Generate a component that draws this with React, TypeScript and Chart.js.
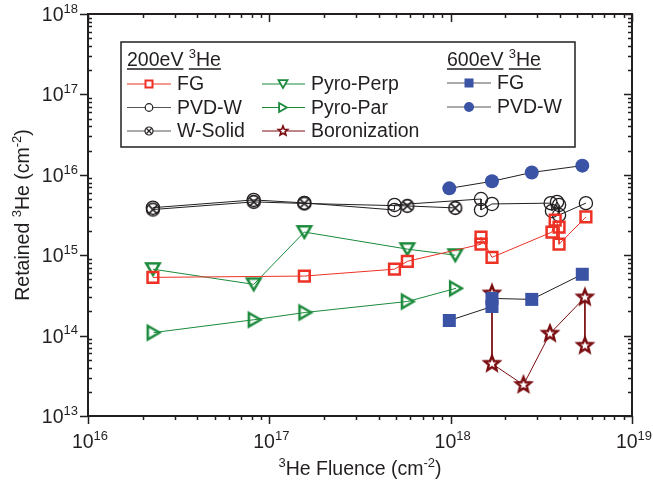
import { useEffect, useRef } from "react";
import { Chart, registerables } from "chart.js";

Chart.register(...registerables);

const FONT = '"Liberation Sans", Arial, Helvetica, sans-serif';
const INK = "#231f20";
const RED = "#ed3124";
const GREEN = "#1b8a3c";
const DARKRED = "#7a0c10";
const BLUE = "#3a53a4";

// 200 eV 3He exposures
const fg200Fluence = [2.28e16, 1.56e17, 4.9e17, 5.77e17, 1.47e18, 1.47e18, 1.69e18, 3.62e18, 3.77e18, 3.96e18, 3.96e18, 5.57e18];
const fg200Retained = [5.3e14, 5.5e14, 6.7e14, 8.4e14, 1.37e15, 1.68e15, 9.4e14, 1.94e15, 2.74e15, 2.24e15, 1.37e15, 2.99e15];

const pvd200Fluence = [2.28e16, 8.2e16, 1.56e17, 4.9e17, 4.9e17, 1.47e18, 1.47e18, 1.69e18, 3.56e18, 3.62e18, 3.86e18, 3.96e18, 3.96e18, 5.57e18];
const pvd200Retained = [3.9e15, 4.87e15, 4.47e15, 3.65e15, 4.22e15, 5.0e15, 3.65e15, 4.34e15, 4.44e15, 3.55e15, 4.6e15, 4.22e15, 3.16e15, 4.44e15];

const wSolidFluence = [2.28e16, 8.2e16, 1.56e17, 5.77e17, 1.06e18];
const wSolidRetained = [3.7e15, 4.6e15, 4.4e15, 4.1e15, 3.87e15];

const pyroPerpFluence = [2.28e16, 8.2e16, 1.56e17, 5.77e17, 1.06e18];
const pyroPerpRetained = [6.7e14, 4.34e14, 1.94e15, 1.19e15, 1.0e15];

const pyroParFluence = [2.3e16, 8.3e16, 1.58e17, 5.8e17, 1.07e18];
const pyroParRetained = [1.09e14, 1.58e14, 1.94e14, 2.66e14, 3.87e14];

const boroFluence = [1.69e18, 1.69e18, 2.52e18, 3.53e18, 5.5e18, 5.5e18];
const boroRetained = [3.35e14, 4.47e13, 2.44e13, 1.06e14, 2.99e14, 7.5e13];

// 600 eV 3He exposures
const fg600Fluence = [9.83e17, 1.69e18, 1.69e18, 2.8e18, 5.32e18];
const fg600Retained = [1.54e14, 2.3e14, 2.9e14, 2.82e14, 5.79e14];

const pvd600Fluence = [9.83e17, 1.69e18, 2.8e18, 5.32e18];
const pvd600Retained = [6.78e15, 8.3e15, 1.07e16, 1.3e16];

// axis decades (exponents of ten)
const xDecades = [16, 17, 18, 19];
const yDecades = [13, 14, 15, 16, 17, 18];

type Part = { t: string; sup?: boolean };

const xTitle: Part[] = [{ t: "3", sup: true }, { t: "He Fluence (cm" }, { t: "-2", sup: true }, { t: ")" }];
const yTitle: Part[] = [{ t: "Retained " }, { t: "3", sup: true }, { t: "He (cm" }, { t: "-2", sup: true }, { t: ")" }];

const pts = (xs: number[], ys: number[]) => xs.map((x, i) => ({ x, y: ys[i] }));

const FS = 19.5;
const SUP = 13;

function drawRich(ctx: CanvasRenderingContext2D, parts: Part[], x: number, capMid: number, align: "left" | "center" | "right", size = FS, supSize = SUP) {
  const base = capMid + size * 0.358;
  const widths = parts.map((p) => {
    ctx.font = `${p.sup ? supSize : size}px ${FONT}`;
    return ctx.measureText(p.t).width;
  });
  const total = widths.reduce((a, b) => a + b, 0);
  let cx = align === "left" ? x : align === "center" ? x - total / 2 : x - total;
  ctx.textAlign = "left";
  ctx.textBaseline = "alphabetic";
  ctx.fillStyle = INK;
  const spans: number[][] = [];
  parts.forEach((p, i) => {
    ctx.font = `${p.sup ? supSize : size}px ${FONT}`;
    ctx.fillText(p.t, cx, p.sup ? base - size * 0.42 : base);
    spans.push([cx, cx + widths[i]]);
    cx += widths[i];
  });
  return { start: spans[0][0], end: cx, base, spans };
}

function makeCanvas(size: number, draw: (ctx: CanvasRenderingContext2D, c: number) => void) {
  const cv = document.createElement("canvas");
  cv.width = size;
  cv.height = size;
  const ctx = cv.getContext("2d")!;
  draw(ctx, size / 2);
  return cv;
}

function pathStar(ctx: CanvasRenderingContext2D, cx: number, cy: number, ro: number, ri: number) {
  ctx.beginPath();
  for (let i = 0; i < 10; i++) {
    const r = i % 2 === 0 ? ro : ri;
    const a = -Math.PI / 2 + (i * Math.PI) / 5;
    const px = cx + r * Math.cos(a);
    const py = cy + r * Math.sin(a);
    if (i === 0) ctx.moveTo(px, py);
    else ctx.lineTo(px, py);
  }
  ctx.closePath();
}

function pathTriDown(ctx: CanvasRenderingContext2D, cx: number, cy: number, w: number, h: number) {
  ctx.beginPath();
  ctx.moveTo(cx - w / 2, cy - h / 2);
  ctx.lineTo(cx + w / 2, cy - h / 2);
  ctx.lineTo(cx, cy + h / 2);
  ctx.closePath();
}

function pathTriRight(ctx: CanvasRenderingContext2D, cx: number, cy: number, w: number, h: number) {
  ctx.beginPath();
  ctx.moveTo(cx - w / 2, cy - h / 2);
  ctx.lineTo(cx + w / 2, cy);
  ctx.lineTo(cx - w / 2, cy + h / 2);
  ctx.closePath();
}

function drawCrossCircle(ctx: CanvasRenderingContext2D, cx: number, cy: number, r: number, lw: number) {
  ctx.strokeStyle = INK;
  ctx.lineWidth = lw;
  ctx.beginPath();
  ctx.arc(cx, cy, r, 0, Math.PI * 2);
  ctx.stroke();
  const d = r * 0.68;
  ctx.beginPath();
  ctx.moveTo(cx - d, cy - d);
  ctx.lineTo(cx + d, cy + d);
  ctx.moveTo(cx + d, cy - d);
  ctx.lineTo(cx - d, cy + d);
  ctx.stroke();
}

const framePlugin = {
  id: "frameAndKey",
  afterDraw(chart: any) {
    const ctx: CanvasRenderingContext2D = chart.ctx;
    const { left, right, top, bottom } = chart.chartArea;
    const xs = chart.scales.x;
    const ys = chart.scales.y;
    ctx.save();
    ctx.strokeStyle = INK;
    ctx.lineWidth = 2;
    ctx.strokeRect(left, top, right - left, bottom - top);

    ctx.lineWidth = 1.5;
    const MAJ = 8;
    const MIN = 4;
    // x ticks
    xDecades.forEach((d, i) => {
      const px = Math.round(xs.getPixelForValue(Math.pow(10, d))) + 0.5;
      ctx.beginPath();
      ctx.moveTo(px, bottom);
      ctx.lineTo(px, bottom + MAJ);
      ctx.moveTo(px, top);
      ctx.lineTo(px, top + MAJ);
      ctx.stroke();
      if (i < xDecades.length - 1) {
        for (let m = 2; m <= 9; m++) {
          const mx = Math.round(xs.getPixelForValue(m * Math.pow(10, d))) + 0.5;
          ctx.beginPath();
          ctx.moveTo(mx, bottom);
          ctx.lineTo(mx, bottom + MIN);
          ctx.moveTo(mx, top);
          ctx.lineTo(mx, top + MIN);
          ctx.stroke();
        }
      }
    });
    // y ticks
    yDecades.forEach((d, i) => {
      const py = Math.round(ys.getPixelForValue(Math.pow(10, d))) + 0.5;
      ctx.beginPath();
      ctx.moveTo(left, py);
      ctx.lineTo(left - MAJ, py);
      ctx.moveTo(right, py);
      ctx.lineTo(right - MAJ, py);
      ctx.stroke();
      if (i < yDecades.length - 1) {
        for (let m = 2; m <= 9; m++) {
          const my = Math.round(ys.getPixelForValue(m * Math.pow(10, d))) + 0.5;
          ctx.beginPath();
          ctx.moveTo(left, my);
          ctx.lineTo(left + MIN, my);
          ctx.moveTo(right, my);
          ctx.lineTo(right - MIN, my);
          ctx.stroke();
        }
      }
    });

    // tick labels
    xDecades.forEach((d) => {
      const px = xs.getPixelForValue(Math.pow(10, d));
      drawRich(ctx, [{ t: "10" }, { t: String(d), sup: true }], px + 2, 441, "center");
    });
    yDecades.forEach((d) => {
      const py = ys.getPixelForValue(Math.pow(10, d));
      drawRich(ctx, [{ t: "10" }, { t: String(d), sup: true }], left - 10, py, "right");
    });

    // axis titles
    drawRich(ctx, xTitle, (left + right) / 2, 468, "center");
    ctx.save();
    ctx.translate(22, (top + bottom) / 2);
    ctx.rotate(-Math.PI / 2);
    drawRich(ctx, yTitle, 0, 0, "center");
    ctx.restore();

    // key box
    ctx.lineWidth = 1.5;
    ctx.strokeStyle = INK;
    ctx.strokeRect(121, 42, 454, 105);

    const heading = (x: number, label: string) => {
      const r = drawRich(ctx, [{ t: label }, { t: " " }, { t: "3", sup: true }, { t: "He" }], x, 59.5, "left");
      ctx.strokeStyle = INK;
      ctx.lineWidth = 1.4;
      const uy = r.base + 2.5;
      ctx.beginPath();
      ctx.moveTo(r.spans[0][0], uy);
      ctx.lineTo(r.spans[0][1], uy);
      ctx.moveTo(r.spans[2][0], uy);
      ctx.lineTo(r.spans[3][1], uy);
      ctx.stroke();
    };
    heading(127, "200eV");
    heading(447, "600eV");

    const rows = [83.5, 107, 130.5];
    const entry = (x1: number, x2: number, mx: number, tx: number, y: number, color: string, label: string, marker: (cx: number, cy: number) => void) => {
      ctx.strokeStyle = color;
      ctx.lineWidth = 1;
      ctx.beginPath();
      ctx.moveTo(x1, y + 0.5);
      ctx.lineTo(x2, y + 0.5);
      ctx.stroke();
      marker(mx, y + 0.5);
      drawRich(ctx, [{ t: label }], tx, y, "left");
    };

    const c1 = [127, 171, 149, 177];
    const c2 = [262, 305, 283, 311];
    const c3 = [447, 491, 469, 497];

    entry(c1[0], c1[1], c1[2], c1[3], rows[0], RED, "FG", (x, y) => {
      ctx.fillStyle = "#fff";
      ctx.fillRect(x - 3.5, y - 3.5, 7, 7);
      ctx.strokeStyle = RED;
      ctx.lineWidth = 2;
      ctx.strokeRect(x - 3.5, y - 3.5, 7, 7);
    });
    entry(c1[0], c1[1], c1[2], c1[3], rows[1], "#555", "PVD-W", (x, y) => {
      ctx.fillStyle = "#fff";
      ctx.strokeStyle = INK;
      ctx.lineWidth = 1.2;
      ctx.beginPath();
      ctx.arc(x, y, 3.8, 0, Math.PI * 2);
      ctx.fill();
      ctx.stroke();
    });
    entry(c1[0], c1[1], c1[2], c1[3], rows[2], "#555", "W-Solid", (x, y) => {
      ctx.fillStyle = "#fff";
      ctx.beginPath();
      ctx.arc(x, y, 4, 0, Math.PI * 2);
      ctx.fill();
      drawCrossCircle(ctx, x, y, 4, 1.2);
    });
    entry(c2[0], c2[1], c2[2], c2[3], rows[0], GREEN, "Pyro-Perp", (x, y) => {
      ctx.fillStyle = "#fff";
      pathTriDown(ctx, x, y, 9, 7.8);
      ctx.fill();
      ctx.strokeStyle = GREEN;
      ctx.lineWidth = 1.8;
      ctx.stroke();
    });
    entry(c2[0], c2[1], c2[2], c2[3], rows[1], GREEN, "Pyro-Par", (x, y) => {
      ctx.fillStyle = "#fff";
      pathTriRight(ctx, x, y, 7.8, 9);
      ctx.fill();
      ctx.strokeStyle = GREEN;
      ctx.lineWidth = 1.8;
      ctx.stroke();
    });
    entry(c2[0], c2[1], c2[2], c2[3], rows[2], DARKRED, "Boronization", (x, y) => {
      ctx.fillStyle = "#fff";
      pathStar(ctx, x, y, 5, 2.2);
      ctx.fill();
      ctx.strokeStyle = DARKRED;
      ctx.lineWidth = 1.6;
      ctx.stroke();
    });
    entry(c3[0], c3[1], c3[2], c3[3], rows[0] - 1, "#555", "FG", (x, y) => {
      ctx.fillStyle = BLUE;
      ctx.fillRect(x - 4.5, y - 4.5, 9, 9);
    });
    entry(c3[0], c3[1], c3[2], c3[3], rows[1] - 0.5, "#555", "PVD-W", (x, y) => {
      ctx.fillStyle = BLUE;
      ctx.beginPath();
      ctx.arc(x, y, 5, 0, Math.PI * 2);
      ctx.fill();
    });

    ctx.restore();
  },
};

export default function App() {
  const ref = useRef<HTMLCanvasElement>(null);

  useEffect(() => {
    const wSolidMark = makeCanvas(20, (ctx, c) => drawCrossCircle(ctx, c, c, 6.4, 1.6));
    const starMark = makeCanvas(22, (ctx, c) => {
      pathStar(ctx, c, c, 7.8, 3.4);
      ctx.fillStyle = "#fff";
      ctx.fill();
      ctx.strokeStyle = DARKRED;
      ctx.lineWidth = 2.4;
      ctx.lineJoin = "miter";
      ctx.stroke();
    });
    const triDownMark = makeCanvas(22, (ctx, c) => {
      pathTriDown(ctx, c, c, 13.5, 11.7);
      ctx.strokeStyle = GREEN;
      ctx.lineWidth = 2.5;
      ctx.stroke();
    });
    const triRightMark = makeCanvas(22, (ctx, c) => {
      pathTriRight(ctx, c, c, 11.7, 13.5);
      ctx.strokeStyle = GREEN;
      ctx.lineWidth = 2.5;
      ctx.stroke();
    });

    const line = { showLine: true, borderWidth: 1, tension: 0 };

    const chart = new Chart(ref.current!, {
      type: "scatter",
      data: {
        datasets: [
          {
            ...line,
            label: "600eV FG",
            data: pts(fg600Fluence, fg600Retained),
            borderColor: INK,
            pointStyle: "rect",
            pointRadius: 9.2,
            pointBorderWidth: 0,
            pointBackgroundColor: BLUE,
            pointBorderColor: BLUE,
          },
          {
            ...line,
            label: "600eV PVD-W",
            data: pts(pvd600Fluence, pvd600Retained),
            borderColor: INK,
            pointStyle: "circle",
            pointRadius: 7,
            pointBorderWidth: 0,
            pointBackgroundColor: BLUE,
            pointBorderColor: BLUE,
          },
          {
            ...line,
            label: "FG",
            data: pts(fg200Fluence, fg200Retained),
            borderColor: RED,
            pointStyle: "rect",
            pointRadius: 7.6,
            pointBorderWidth: 2.5,
            pointBackgroundColor: "rgba(255,255,255,0)",
            pointBorderColor: RED,
          },
          {
            ...line,
            label: "Pyro-Perp",
            data: pts(pyroPerpFluence, pyroPerpRetained),
            borderColor: GREEN,
            pointStyle: triDownMark,
          },
          {
            ...line,
            label: "Pyro-Par",
            data: pts(pyroParFluence, pyroParRetained),
            borderColor: GREEN,
            pointStyle: triRightMark,
          },
          {
            ...line,
            label: "PVD-W",
            data: pts(pvd200Fluence, pvd200Retained),
            borderColor: INK,
            pointStyle: "circle",
            pointRadius: 6.6,
            pointBorderWidth: 1.3,
            pointBackgroundColor: "rgba(255,255,255,0)",
            pointBorderColor: INK,
          },
          {
            ...line,
            label: "W-Solid",
            data: pts(wSolidFluence, wSolidRetained),
            borderColor: INK,
            pointStyle: wSolidMark,
          },
          {
            ...line,
            label: "Boronization",
            data: pts(boroFluence, boroRetained),
            borderColor: DARKRED,
            pointStyle: starMark,
          },
        ],
      },
      options: {
        responsive: false,
        animation: false,
        devicePixelRatio: 1,
        events: [],
        layout: { padding: { left: 88, top: 14, right: 21, bottom: 67 } },
        scales: {
          x: { type: "logarithmic", min: 1e16, max: 1e19, display: false },
          y: { type: "logarithmic", min: 1e13, max: 1e18, display: false },
        },
        plugins: { legend: { display: false }, tooltip: { enabled: false } },
      },
      plugins: [framePlugin],
    } as any);

    return () => chart.destroy();
  }, []);

  return (
    <div style={{ position: "fixed", left: 0, top: 0, width: 653, height: 483, background: "#fff" }}>
      <canvas ref={ref} width={653} height={483} style={{ width: 653, height: 483, display: "block" }} />
    </div>
  );
}
